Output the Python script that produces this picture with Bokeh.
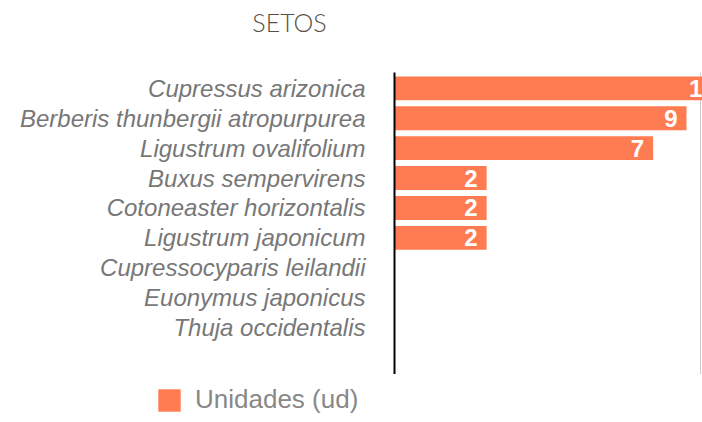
from bokeh.plotting import figure
from bokeh.layouts import column
from bokeh.models import (ColumnDataSource, FixedTicker, Range1d, Legend, LegendItem, Label)
from bokeh.core.properties import value
from bokeh.embed import file_html
from bokeh.resources import INLINE

species = [
    "Cupressus arizonica",
    "Berberis thunbergii atropurpurea",
    "Ligustrum ovalifolium",
    "Buxus sempervirens",
    "Cotoneaster horizontalis",
    "Ligustrum japonicum",
    "Cupressocyparis leilandii",
    "Euonymus japonicus",
    "Thuja occidentalis",
]
unidades = [12, 9, 7, 2, 2, 2, 0, 0, 0]
series_name = "Unidades (ud)"
title_text = "SETOS"

BAR = "#ff7b51"
W = 702


def bare(fig):
    fig.outline_line_color = None
    fig.background_fill_color = "white"
    fig.border_fill_color = "white"
    fig.xgrid.visible = False
    fig.ygrid.visible = False


# ---- title strip ----
pt = figure(width=W, height=40, output_backend="svg", toolbar_location=None,
            x_range=Range1d(0, W), y_range=Range1d(0, 40),
            x_axis_location=None, y_axis_location=None,
            min_border=0, frame_align=False)
bare(pt)
pt.add_layout(Label(x=289, y=19, text=title_text, text_align="center",
                    text_baseline="middle", text_font="Lato Light, Lato",
                    text_font_size="25px", text_color="#5b4f44"))

# ---- main chart ----
pos = [-i for i in range(len(species))]
keep = [i for i, v in enumerate(unidades) if v > 0]
src = ColumnDataSource(dict(
    y=[pos[i] for i in keep],
    v=[unidades[i] for i in keep],
    left=[1] * len(keep),
    lab=[str(unidades[i]) for i in keep],
))

p = figure(width=W, height=334, output_backend="svg", toolbar_location=None,
           x_axis_type="log", x_range=Range1d(1, 10.15),
           y_range=Range1d(pos[-1] - 1.57, 0.53),
           min_border_left=394, min_border_right=0, min_border_top=32,
           min_border_bottom=0, frame_align=False)
p.outline_line_color = None
p.background_fill_color = "white"
p.border_fill_color = "white"

r = p.hbar(y="y", left="left", right="v", height=0.8, source=src,
           fill_color=BAR, line_color=None)
p.text(x="v", y="y", text="lab", source=src, x_offset=-9,
       text_align="right", text_baseline="middle",
       text_color="white", text_font=value("Liberation Sans"),
       text_font_size="24px", text_font_style="bold")

p.xaxis.visible = False
p.xgrid.ticker = FixedTicker(ticks=[10])
p.xgrid.grid_line_color = "#cccccc"
p.xgrid.grid_line_width = 1
p.ygrid.grid_line_color = None

ya = p.yaxis[0]
ya.ticker = FixedTicker(ticks=pos)
ya.major_label_overrides = {pp: s for pp, s in zip(pos, species)}
ya.major_tick_line_color = None
ya.minor_tick_line_color = None
ya.axis_line_color = "black"
ya.axis_line_width = 2
ya.major_label_standoff = 23
ya.major_label_text_font = "Liberation Sans"
ya.major_label_text_font_style = "italic"
ya.major_label_text_font_size = "24px"
ya.major_label_text_color = "#777777"

# ---- legend strip (bars of the same series, kept out of view) ----
pl = figure(width=W, height=48, output_backend="svg", toolbar_location=None,
            x_range=Range1d(-2, -1), y_range=Range1d(20, 21),
            x_axis_location=None, y_axis_location=None, min_border=0,
            frame_align=False)
bare(pl)
rl = pl.hbar(y="y", left="left", right="v", height=0.8, source=src,
             fill_color=BAR, line_color=None)
legend = Legend(items=[LegendItem(label=series_name, renderers=[rl])],
                location=(155, 7), orientation="horizontal")
legend.padding = 0
legend.margin = 0
legend.border_line_color = None
legend.background_fill_alpha = 0
legend.glyph_width = 28
legend.glyph_height = 28
legend.label_height = 28
legend.label_standoff = 12
legend.label_text_font = "Liberation Sans"
legend.label_text_font_size = "26px"
legend.label_text_baseline = "middle"
legend.label_text_color = "#888888"
pl.add_layout(legend, "center")

layout = column(pt, p, pl, spacing=0)
open("out.html", "w").write(file_html(layout, INLINE))
